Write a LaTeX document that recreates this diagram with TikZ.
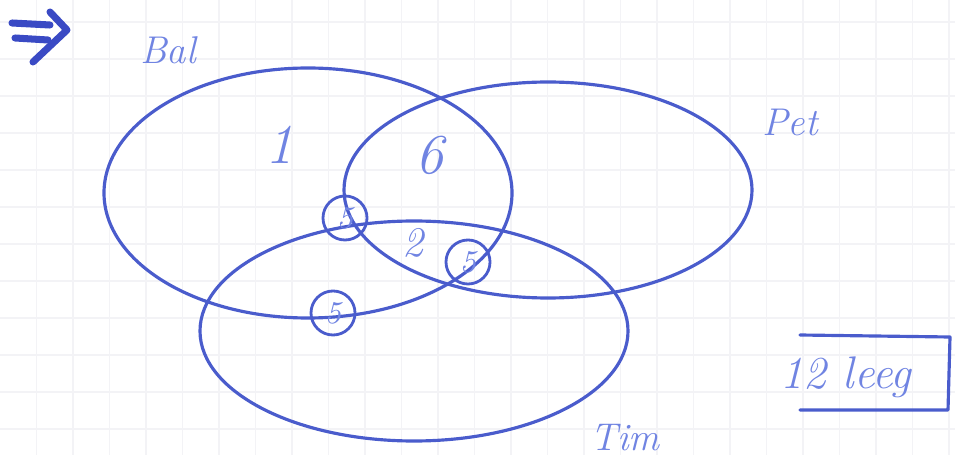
\documentclass[tikz,border=0pt]{standalone}
\usepackage{xcolor}
\definecolor{ink}{RGB}{74,92,204}
\definecolor{inklight}{RGB}{112,132,226}
\definecolor{inkdark}{RGB}{58,74,196}
\definecolor{paper}{RGB}{243,243,246}
\tikzset{
  setline/.style={draw=ink, line width=0.9pt},
  lbl/.style={text=inklight, font=\itshape},
  five/.style={circle, draw=ink, line width=0.8pt, text=inklight, minimum size=0.44cm, inner sep=0pt, font=\fontsize{9}{9}\selectfont\itshape}
}
\begin{document}
\begin{tikzpicture}[x=0.01cm, y=-0.01cm, line join=round, line cap=round]
	\useasboundingbox (0,0) rectangle (955,455);
	% paper
	\foreach \gx in {36.5,73,...,950} \draw[paper, line width=0.5pt] (\gx,0) -- (\gx,455);
	\foreach \gy in {22,59,...,450} \draw[paper, line width=0.5pt] (0,\gy) -- (955,\gy);
	% arrow
	\draw[inkdark, line width=2pt] (12,23) -- (50,25);
	\draw[inkdark, line width=2pt] (15,38) -- (48,40);
	\draw[inkdark, line width=2pt] (50,12) -- (67,30) -- (33,62);
	% sets
	\draw[setline] (308,193) ellipse [x radius=204, y radius=125];
	\draw[setline] (548,190) ellipse [x radius=204, y radius=108];
	\draw[setline] (414,331) ellipse [x radius=214, y radius=110];
	% names
	\node[lbl, font=\fontsize{11}{11}\selectfont\itshape] (bal) at (168,50) {Bal};
	\node[lbl, font=\fontsize{11}{11}\selectfont\itshape] (pet) at (790,122) {Pet};
	\node[lbl, font=\fontsize{11}{11}\selectfont\itshape] (tim) at (625,438) {Tim};
	% counts
	\node[lbl, font=\fontsize{16}{16}\selectfont\itshape] (only bal) at (280,145) {1};
	\node[lbl, font=\fontsize{16}{16}\selectfont\itshape] (bal pet) at (430,155) {6};
	\node[lbl, font=\fontsize{12}{12}\selectfont\itshape] (all) at (413,243) {2};
	\node[five] (five a) at (345,218) {5};
	\node[five] (five b) at (468,262) {5};
	\node[five] (five c) at (333,313) {5};
	% none
	\node[lbl, font=\fontsize{13}{13}\selectfont\itshape] (none) at (846,377) {12 leeg};
	\draw[setline] (800,335) -- (950,337) -- (948,410) -- (800,410);
\end{tikzpicture}
\end{document}
